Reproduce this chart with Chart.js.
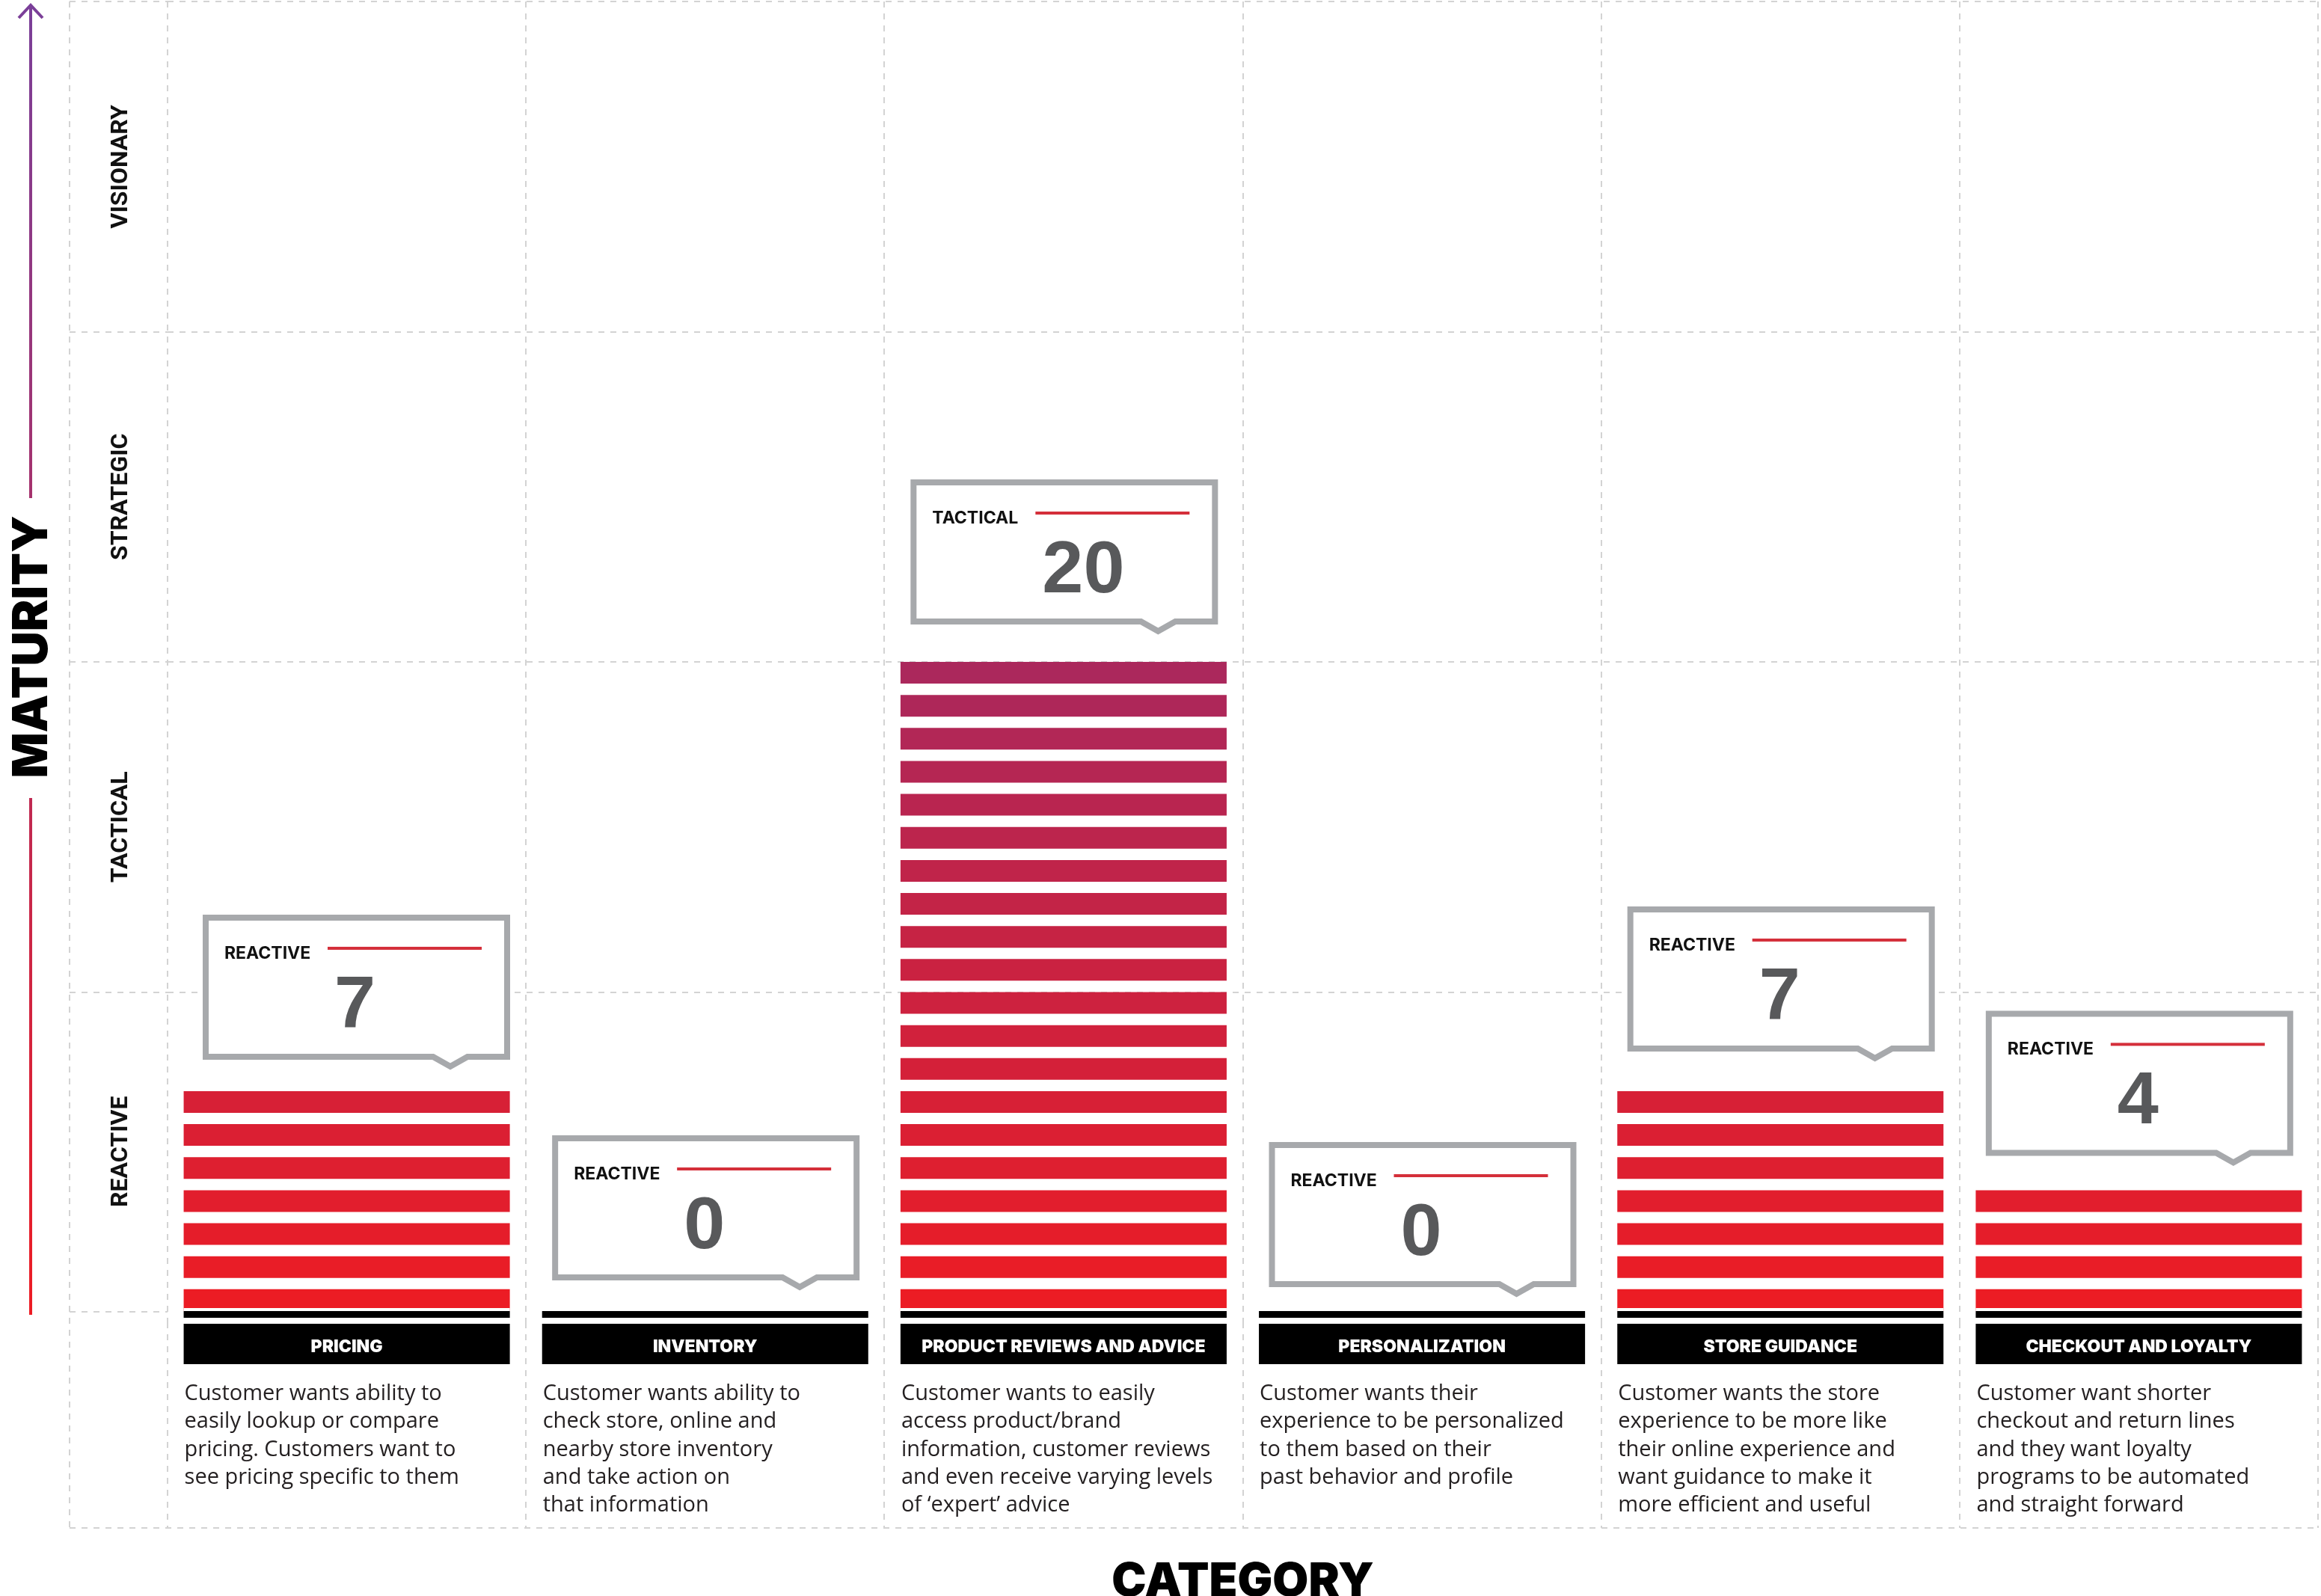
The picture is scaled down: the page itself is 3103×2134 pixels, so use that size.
<!DOCTYPE html>
<html>
<head>
<meta charset="utf-8">
<script src="https://cdn.jsdelivr.net/npm/chart.js@4.4.1/dist/chart.umd.min.js"></script>
<style>
html,body{margin:0;padding:0;background:#fff}
canvas{display:block}
</style>
</head>
<body>
<canvas id="c" width="3103" height="2134" style="width:3103px;height:2134px"></canvas>
<script>
// ---------- data ----------
const categories = ['PRICING', 'INVENTORY', 'PRODUCT REVIEWS AND ADVICE', 'PERSONALIZATION', 'STORE GUIDANCE', 'CHECKOUT AND LOYALTY'];
const scores = [7, 0, 20, 0, 7, 4];
const levels = ['REACTIVE', 'REACTIVE', 'TACTICAL', 'REACTIVE', 'REACTIVE', 'REACTIVE'];
const descriptions = [
  ['Customer wants ability to', 'easily lookup or compare', 'pricing. Customers want to', 'see pricing specific to them'],
  ['Customer wants ability to', 'check store, online and', 'nearby store inventory', 'and take action on', 'that information'],
  ['Customer wants to easily', 'access product/brand', 'information, customer reviews', 'and even receive varying levels', 'of \u2018expert\u2019 advice'],
  ['Customer wants their', 'experience to be personalized', 'to them based on their', 'past behavior and profile'],
  ['Customer wants the store', 'experience to be more like', 'their online experience and', 'want guidance to make it', 'more efficient and useful'],
  ['Customer want shorter', 'checkout and return lines', 'and they want loyalty', 'programs to be automated', 'and straight forward']
];
const bandLabels = ['REACTIVE', 'TACTICAL', 'STRATEGIC', 'VISIONARY'];
const bandEdges = [0, 10, 20, 30, 40];
const yAxisTitle = 'MATURITY';
const xAxisTitle = 'CATEGORY';

// ---------- layout / style ----------
const calloutGap = [42, 56, 50, 47, 53, 46];
const calloutShift = [12, 0, 0, 0, 0, 0];
const STRIPE = 0.657;
const BAR_PCT = 0.91;
const GRID = '#d3d3d3';

function stripeColor(k) {
  const t = Math.min(1, (k - 1) / 19);
  const a = [236, 28, 36], b = [171, 40, 92];
  const c = a.map((v, i) => Math.round(v + (b[i] - v) * t));
  return `rgb(${c[0]},${c[1]},${c[2]})`;
}

const datasets = [];
const maxScore = Math.max(...scores);
for (let k = 1; k <= maxScore; k++) {
  datasets.push({
    label: 'level unit ' + k,
    data: scores.map(v => (v >= k ? [k - STRIPE, k] : null)),
    backgroundColor: stripeColor(k),
    borderWidth: 0,
    grouped: false,
    categoryPercentage: BAR_PCT,
    barPercentage: 1
  });
}

function dashed(ctx, x1, y1, x2, y2) {
  ctx.save();
  ctx.strokeStyle = GRID;
  ctx.lineWidth = 2;
  ctx.setLineDash([8, 8]);
  ctx.beginPath();
  ctx.moveTo(x1, y1);
  ctx.lineTo(x2, y2);
  ctx.stroke();
  ctx.restore();
}

const decor = {
  id: 'decor',
  afterDatasetsDraw(chart) {
    const { ctx, scales: { x, y }, chartArea: ca } = chart;
    const n = categories.length;
    const y0 = y.getPixelForValue(0);
    const baseY = y0 - 15;
    const gridBottom = y0 + 275;
    const LEFT = 93;
    const colW = (ca.right - ca.left) / n;
    const barW = colW * BAR_PCT;

    // extended grid
    for (let i = 0; i <= n; i++) {
      const gx = Math.round(ca.left + i * colW);
      dashed(ctx, gx, y0, gx, gridBottom);
    }
    dashed(ctx, LEFT, ca.top, LEFT, gridBottom);
    for (const v of bandEdges.slice(1)) {
      const py = Math.round(y.getPixelForValue(v));
      dashed(ctx, LEFT, py, ca.left, py);
    }
    dashed(ctx, LEFT, baseY + 1, ca.left, baseY + 1);
    dashed(ctx, LEFT, gridBottom, ca.right, gridBottom);

    // band labels
    ctx.save();
    ctx.fillStyle = '#111';
    ctx.font = '700 32px Roboto';
    ctx.textAlign = 'center';
    ctx.textBaseline = 'alphabetic';
    for (let b = 0; b < bandLabels.length; b++) {
      const top = y.getPixelForValue(bandEdges[b + 1]);
      const bot = b === 0 ? baseY : y.getPixelForValue(bandEdges[b]);
      const cy = (top + bot) / 2;
      ctx.save();
      ctx.translate(170, cy);
      ctx.rotate(-Math.PI / 2);
      ctx.fillText(bandLabels[b], 0, 0);
      ctx.restore();
    }
    ctx.restore();

    // maturity arrow + title
    ctx.save();
    const g = ctx.createLinearGradient(0, 5, 0, 1758);
    g.addColorStop(0, '#7a3f99');
    g.addColorStop(1, '#ed1c24');
    ctx.strokeStyle = g;
    ctx.lineWidth = 4;
    ctx.beginPath();
    ctx.moveTo(41, 6); ctx.lineTo(41, 666);
    ctx.moveTo(41, 1067); ctx.lineTo(41, 1758);
    ctx.stroke();
    ctx.beginPath();
    ctx.moveTo(25, 24); ctx.lineTo(41, 7); ctx.lineTo(57, 24);
    ctx.stroke();
    ctx.fillStyle = '#000';
    ctx.font = '900 64px Inter';
    ctx.textAlign = 'center';
    ctx.textBaseline = 'alphabetic';
    ctx.translate(63, 865);
    ctx.rotate(-Math.PI / 2);
    ctx.fillText(yAxisTitle, 0, 0);
    ctx.restore();

    // category title
    ctx.save();
    ctx.fillStyle = '#000';
    ctx.font = '900 62px Inter';
    ctx.textAlign = 'center';
    ctx.textBaseline = 'alphabetic';
    ctx.fillText(xAxisTitle, (ca.left + ca.right) / 2, 2134);
    ctx.restore();

    for (let i = 0; i < n; i++) {
      const cx = x.getPixelForValue(i);
      const left = cx - barW / 2;
      ctx.save();
      if (scores[i] > 0) {
        ctx.fillStyle = '#fff';
        ctx.fillRect(left, baseY - 4, barW, 4);
      }
      ctx.fillStyle = '#000';
      ctx.fillRect(left, baseY, barW, 9);
      ctx.fillRect(left, y0 + 2, barW, 54);
      ctx.fillStyle = '#fff';
      ctx.font = '900 23px Inter';
      ctx.textAlign = 'center';
      ctx.textBaseline = 'alphabetic';
      ctx.fillText(categories[i], cx, y0 + 40);

      ctx.fillStyle = '#231f20';
      ctx.font = '400 29px "Open Sans"';
      ctx.textAlign = 'left';
      descriptions[i].forEach((line, j) => ctx.fillText(line, left + 1, y0 + 104 + j * 37.3));

      // callout
      const B = y.getPixelForValue(scores[i]) - calloutGap[i];
      const T = B - 194;
      const L = ca.left + i * colW + 35 + calloutShift[i];
      const R = L + 411;
      ctx.beginPath();
      ctx.moveTo(L + 4, T + 4);
      ctx.lineTo(R - 4, T + 4);
      ctx.lineTo(R - 4, B - 4);
      ctx.lineTo(R - 57, B - 4);
      ctx.lineTo(R - 80, B + 9);
      ctx.lineTo(R - 103, B - 4);
      ctx.lineTo(L + 4, B - 4);
      ctx.closePath();
      ctx.fillStyle = '#fff';
      ctx.fill();
      ctx.lineWidth = 8;
      ctx.lineJoin = 'miter';
      ctx.strokeStyle = '#a7a9ac';
      ctx.stroke();

      ctx.fillStyle = '#111';
      ctx.font = '700 23px Inter';
      ctx.fillText(levels[i], L + 29, T + 59);
      ctx.fillStyle = '#d42f3a';
      ctx.fillRect(L + 167, T + 43, 206, 4);
      ctx.fillStyle = '#58595b';
      ctx.font = 'bold 99px "Liberation Sans"';
      ctx.fillText(String(scores[i]), L + 176, T + 151);
      ctx.restore();
    }
  }
};

new Chart(document.getElementById('c').getContext('2d'), {
  type: 'bar',
  data: { labels: categories, datasets },
  options: {
    responsive: false,
    animation: false,
    devicePixelRatio: 1,
    layout: { padding: { left: 224, right: 4, top: 2, bottom: 366 } },
    plugins: { legend: { display: false }, tooltip: { enabled: false }, title: { display: false } },
    scales: {
      x: {
        grid: { color: GRID, lineWidth: 2, drawTicks: false, offset: true },
        border: { display: false, dash: [8, 8] },
        ticks: { display: false },
        afterFit(s) { s.height = 0; }
      },
      y: {
        min: 0, max: 40,
        ticks: { display: false, stepSize: 10 },
        grid: { color: c => (c.tick && c.tick.value === 0 ? 'rgba(0,0,0,0)' : GRID), lineWidth: 2, drawTicks: false },
        border: { display: false, dash: [8, 8] },
        afterFit(s) { s.width = 0; }
      }
    }
  },
  plugins: [decor]
});
</script>
</body>
</html>
